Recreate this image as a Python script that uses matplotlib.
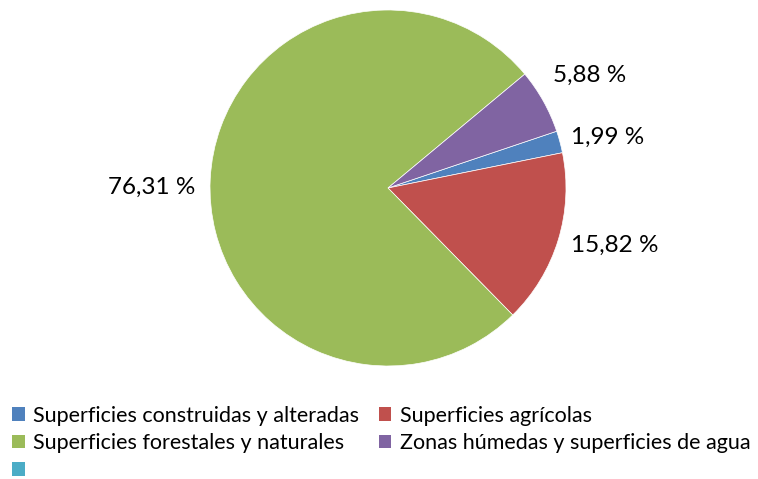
import matplotlib
matplotlib.use('Agg')
import matplotlib.pyplot as plt
from matplotlib.patches import Patch

plt.rcParams['font.family'] = ['Lato', 'DejaVu Sans']

# Data
categories = ['Superficies construidas y alteradas', 'Superficies agrícolas',
              'Superficies forestales y naturales', 'Zonas húmedas y superficies de agua', '']
values = [1.99, 15.82, 76.31, 5.88]
colors = ['#4F81BD', '#C0504D', '#9BBB59', '#8064A2', '#4BACC6']

fig = plt.figure(figsize=(7.58, 4.79), dpi=100)
ax = fig.add_axes([210 / 758, 113 / 479, 356 / 758, 356 / 479])

wedges, texts, autotexts = ax.pie(
    values, colors=colors[:len(values)], startangle=18.6, counterclock=False,
    autopct=lambda p: f'{p:.2f} %'.replace('.', ','), pctdistance=1.3,
    wedgeprops=dict(edgecolor='white', linewidth=0.5),
    textprops=dict(fontsize=17.5, color='black'))
ax.set_xlim(-1, 1)
ax.set_ylim(-1, 1)
ax.set_aspect('equal')

# nudge the labels a little, like the original
label_shift = [(-0.02, -0.05), (0.03, 0.06), (-0.03, -0.06), (0.0, 0.0)]
for t, (dx, dy) in zip(autotexts, label_shift):
    x, y = t.get_position()
    t.set_position((x + dx, y + dy))

# Legend filled row by row (matplotlib fills columns first)
order = [0, 2, 4, 1, 3]
handles = [Patch(facecolor=colors[i], edgecolor='none') for i in order]
labels = [categories[i] for i in order]
fig.legend(handles, labels, ncol=2, loc='upper left',
           bbox_to_anchor=(0.004, 1 - 397 / 479), frameon=False, fontsize=15.5,
           handlelength=0.6, handleheight=0.6, handletextpad=0.4,
           columnspacing=0.9, labelspacing=0.35, borderaxespad=0.0)

fig.savefig('out.png', dpi=100)
